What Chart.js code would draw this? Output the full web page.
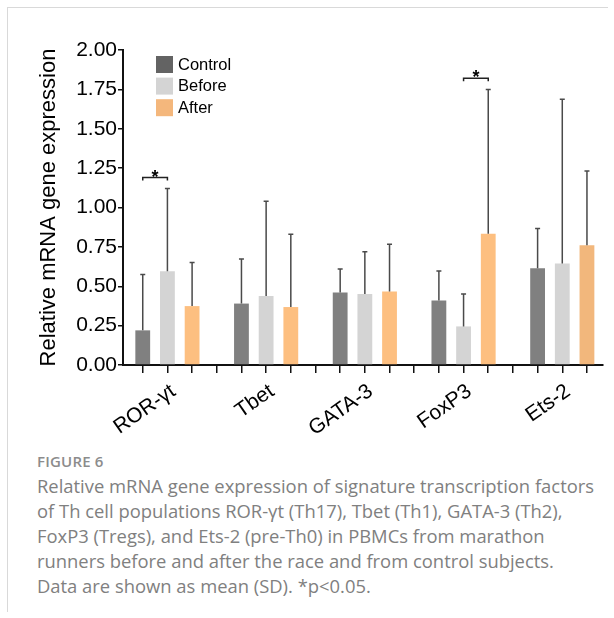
<!DOCTYPE html>
<html>
<head>
<meta charset="utf-8">
<script src="https://cdn.jsdelivr.net/npm/chart.js@4.4.1/dist/chart.umd.min.js"></script>
<style>
  html, body { margin: 0; background: #fff; overflow: hidden; }
  #frame { position: absolute; left: 7px; top: 7px; width: 600px; height: 604px;
           border-top: 1px solid #d9d9d9; border-left: 1px solid #d9d9d9; }
  #myChart { position: absolute; left: 0; top: 0; z-index: 2; }
  #caption { position: absolute; left: 37px; top: 450px; font-family: 'Open Sans', sans-serif;
             color: #808080; font-size: 18.4px; line-height: 25px; white-space: nowrap; }
  #caption .fig { font-weight: 600; color: #8c8c8c; font-size: 15px; letter-spacing: 0.2px; line-height: 23px; }
</style>
</head>
<body>
<div id="frame"></div>
<div id="caption">
  <div class="fig">FIGURE 6</div>
  Relative mRNA gene expression of signature transcription factors<br>
  of Th cell populations ROR-γt (Th17), Tbet (Th1), GATA-3 (Th2),<br>
  FoxP3 (Tregs), and Ets-2 (pre-Th0) in PBMCs from marathon<br>
  runners before and after the race and from control subjects.<br>
  Data are shown as mean (SD). *p&lt;0.05.
</div>
<canvas id="myChart" width="614" height="440"></canvas>
<script>
// values
const categories = ['ROR-γt', 'Tbet', 'GATA-3', 'FoxP3', 'Ets-2'];
const seriesNames = ['Control', 'Before', 'After'];
const control   = [0.22, 0.39, 0.46, 0.41, 0.615];
const controlSD = [0.355, 0.283, 0.15, 0.187, 0.251];
const before    = [0.596, 0.438, 0.451, 0.245, 0.645];
const beforeSD  = [0.525, 0.602, 0.268, 0.206, 1.042];
const after     = [0.374, 0.368, 0.466, 0.834, 0.76];
const afterSD   = [0.277, 0.462, 0.30, 0.915, 0.472];
const yTicks = [0, 0.25, 0.5, 0.75, 1.0, 1.25, 1.5, 1.75, 2.0];
// [category, first series, second series, bracket height]
const sigBrackets = [[0, 0, 1, 1.19], [3, 1, 2, 1.82]];

const barColors = ['#808080', '#d4d4d4', ['#fdbf80', '#fdbf80', '#fdbf80', '#fdbf80', '#f2b77c']];
const legendColors = ['#636363', '#d4d4d4', '#f4b77c'];
const FONT = "'Liberation Sans', Arial, sans-serif";

Chart.defaults.font.family = FONT;
Chart.defaults.color = '#000';

const means = [control, before, after];
const sds = [controlSD, beforeSD, afterSD];
const SLOTS = seriesNames.length + 1;

// error bars, significance brackets and the inset legend
const extras = {
  id: 'extras',
  afterDraw(chart) {
    const c = chart.ctx, ys = chart.scales.y;
    c.save();
    c.lineWidth = 1.5;
    c.strokeStyle = '#4a4a4a';
    seriesNames.forEach((name, s) => {
      chart.getDatasetMeta(s).data.forEach((bar, i) => {
        const top = ys.getPixelForValue(means[s][i] + sds[s][i]);
        c.beginPath();
        c.moveTo(bar.x, bar.y);
        c.lineTo(bar.x, top);
        c.moveTo(bar.x - 2.5, top);
        c.lineTo(bar.x + 2.5, top);
        c.stroke();
      });
    });
    c.strokeStyle = '#222';
    c.fillStyle = '#000';
    c.font = 'bold 18px ' + FONT;
    c.textAlign = 'center';
    c.textBaseline = 'alphabetic';
    sigBrackets.forEach(([g, a, b, v]) => {
      const x1 = chart.getDatasetMeta(a).data[g].x;
      const x2 = chart.getDatasetMeta(b).data[g].x;
      const yy = ys.getPixelForValue(v);
      c.beginPath();
      c.moveTo(x1, yy + 3);
      c.lineTo(x1, yy);
      c.lineTo(x2, yy);
      c.lineTo(x2, yy + 3);
      c.stroke();
      c.fillText('*', (x1 + x2) / 2, yy + 5);
    });
    c.font = '16.5px ' + FONT;
    c.textBaseline = 'middle';
    c.textAlign = 'left';
    seriesNames.forEach((name, s) => {
      const top = 56 + s * 21.6;
      c.fillStyle = legendColors[s];
      c.fillRect(156, top, 17, 17);
      c.fillStyle = '#000';
      c.fillText(name, 178, top + 9);
    });
    c.restore();
  }
};

const datasets = seriesNames.map((name, s) => ({
  label: name,
  data: means[s].map((v, i) => ({ x: i * SLOTS + s, y: v })),
  backgroundColor: barColors[s],
  borderWidth: 0,
  grouped: false,
  barPercentage: 0.75
}));

new Chart(document.getElementById('myChart'), {
  type: 'bar',
  data: { datasets: datasets },
  options: {
    responsive: false,
    animation: false,
    devicePixelRatio: 1,
    layout: { padding: { left: 34, right: 11, top: 50, bottom: 0 } },
    plugins: { legend: { display: false }, tooltip: { enabled: false } },
    scales: {
      x: {
        type: 'linear',
        offset: false,
        min: -0.8,
        max: 18.65,
        afterFit: s => { s.height = 75; },
        border: { color: '#111', width: 2 },
        grid: { offset: false, drawOnChartArea: false, tickLength: 8, color: '#111', lineWidth: 1.5 },
        ticks: {
          stepSize: 1,
          includeBounds: false,
          autoSkip: false,
          minRotation: 35,
          maxRotation: 35,
          padding: 6,
          labelOffset: 6,
          font: { size: 21 },
          callback: v => (v % SLOTS === 1 ? categories[(v - 1) / SLOTS] : '')
        }
      },
      y: {
        min: 0,
        max: 2,
        afterFit: s => { s.width = 89; },
        afterBuildTicks: s => { s.ticks = yTicks.map(v => ({ value: v })); },
        border: { color: '#111', width: 2 },
        grid: { drawOnChartArea: false, tickLength: 5, color: '#111', lineWidth: 1.5 },
        ticks: { padding: 1, font: { size: 21 }, callback: v => Number(v).toFixed(2) },
        title: { display: true, text: 'Relative mRNA gene expression', font: { size: 22 }, padding: { top: 2, bottom: 0 } }
      }
    }
  },
  plugins: [extras]
});
</script>
</body>
</html>
